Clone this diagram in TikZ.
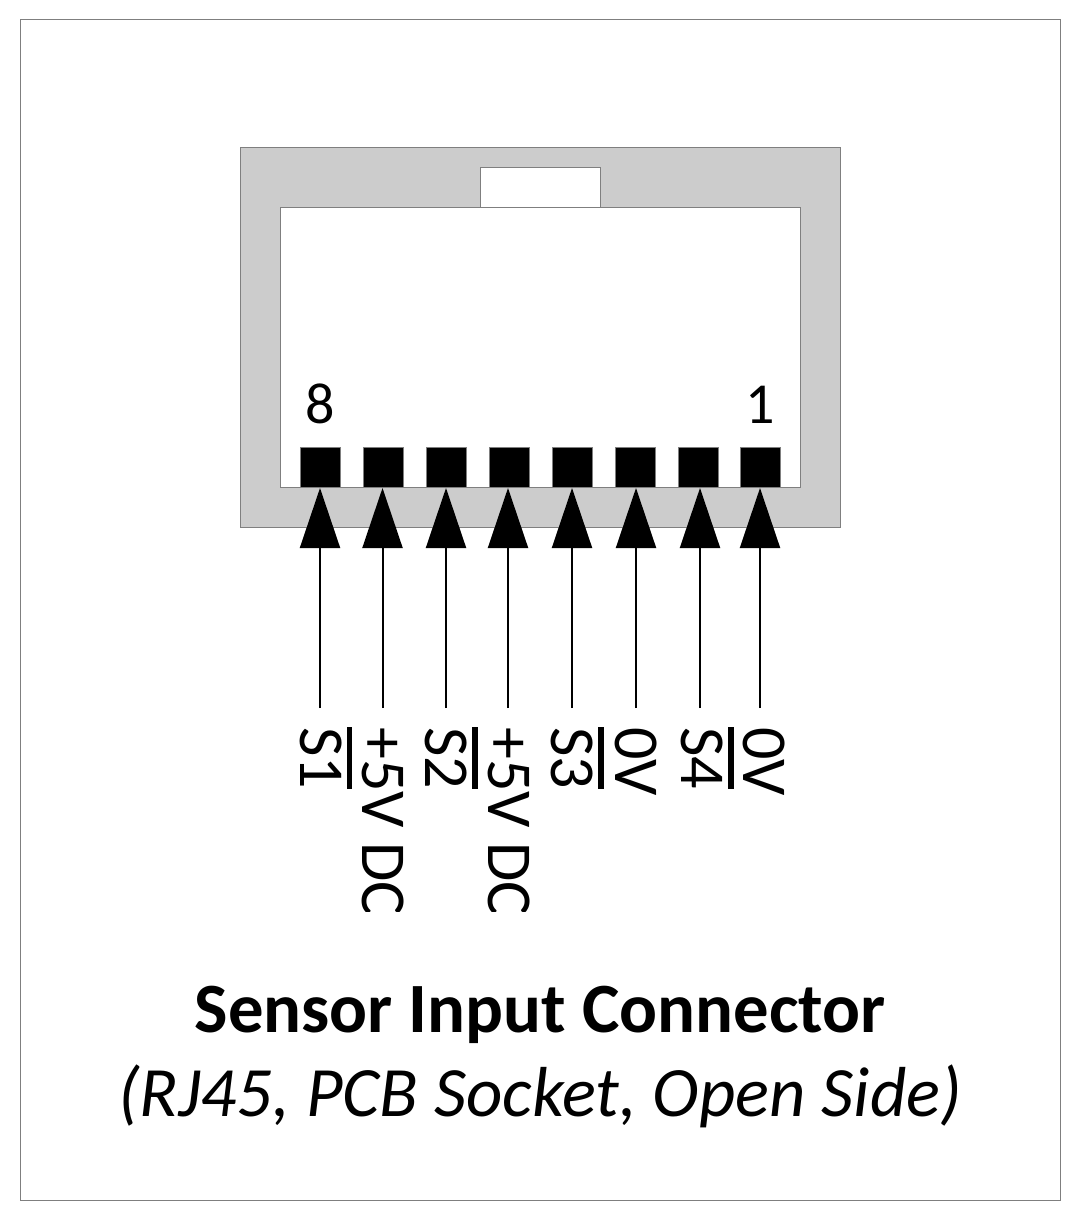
\documentclass[tikz,border=0pt]{standalone}
\usepackage{fontspec}
\setmainfont{Carlito}
\usetikzlibrary{arrows.meta}
\definecolor{edgegray}{HTML}{7F7F7F}
\definecolor{bodygray}{HTML}{CCCCCC}
\newcommand{\barred}[1]{\vbox{\hrule height 5.5pt \kern 5pt \hbox{#1}}}
\tikzset{
	outline/.style={draw=edgegray, line width=1pt},
	pinbox/.style={draw=edgegray, line width=0.8pt, fill=black},
	signal/.style={black, line width=2pt, -{Triangle[length=60pt,width=40pt]}},
	pinlabel/.style={rotate=-90, anchor=base west, inner sep=0pt, font=\fontsize{64}{70}\selectfont},
	pinnum/.style={inner sep=0pt, anchor=base, font=\fontsize{58}{60}\selectfont}
}
\begin{document}
\begin{tikzpicture}[x=1pt, y=-1pt]
	\useasboundingbox (0,0) rectangle (1080,1220);
	\draw[outline] (20,20) rectangle (1060,1200);

	\draw[outline, fill=bodygray] (240,147) rectangle (840,527);
	\draw[outline, fill=white] (480,167) rectangle (600,207);
	\draw[outline, fill=white] (280,207) rectangle (800,487);

	\foreach \n/\x in {8/320.5, 7/383, 6/446.5, 5/509.5, 4/572.5, 3/635.5, 2/698, 1/760.5}
		\draw[pinbox] (\x-20,447) rectangle (\x+20,487);
	\node[pinnum] (num8) at (320.5,423) {8};
	\node[pinnum] (num1) at (760.5,423) {1};

	\foreach \n/\x in {8/320, 7/382.5, 6/446, 5/508, 4/572, 3/636, 2/700, 1/760}{
		\coordinate (wire\n) at (\x,708);
		\coordinate (tip\n) at (\x,488);
		\draw[signal] (wire\n) -- (tip\n);
	}

	\begin{scope}
		\clip (0,0) rectangle (1080,911);
		\node[pinlabel] (name8) at (300,727) {\barred{S1}};
		\node[pinlabel] (name7) at (362.7,727) {+5V DC};
		\node[pinlabel] (name6) at (425.6,727) {\barred{S2}};
		\node[pinlabel] (name5) at (488,727) {+5V DC};
		\node[pinlabel] (name4) at (551.6,727) {\barred{S3}};
		\node[pinlabel] (name3) at (615,727) {0V};
		\node[pinlabel] (name2) at (681.6,727) {\barred{S4}};
		\node[pinlabel] (name1) at (743,727) {0V};
	\end{scope}

	\node[anchor=base, inner sep=0pt, font=\fontsize{70.7}{72}\selectfont\bfseries] (title) at (540,1032) {Sensor Input Connector};
	\node[anchor=base, inner sep=0pt, font=\fontsize{70.8}{72}\selectfont\itshape] (subtitle) at (540,1116) {(RJ45, PCB Socket, Open Side)};
\end{tikzpicture}
\end{document}
